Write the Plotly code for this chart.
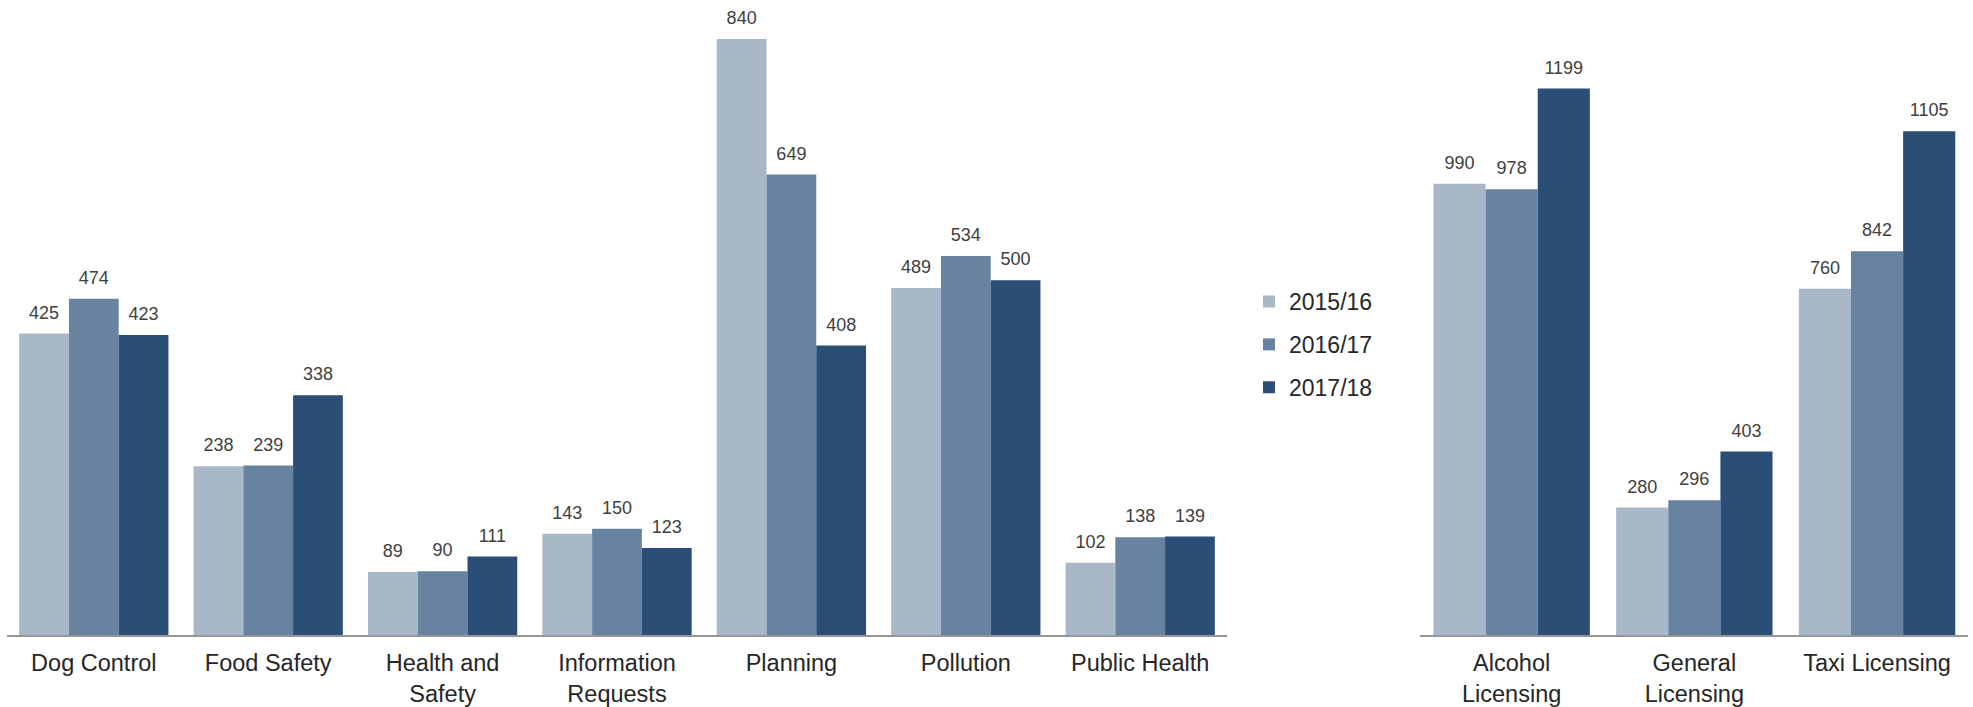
import plotly.graph_objects as go

# ---- data ----
left_categories = ["Dog Control", "Food Safety", "Health and<br>Safety", "Information<br>Requests",
                   "Planning", "Pollution", "Public Health"]
right_categories = ["Alcohol<br>Licensing", "General<br>Licensing", "Taxi Licensing"]
series_names = ["2015/16", "2016/17", "2017/18"]

left_2015_16 = [425, 238, 89, 143, 840, 489, 102]
left_2016_17 = [474, 239, 90, 150, 649, 534, 138]
left_2017_18 = [423, 338, 111, 123, 408, 500, 139]

right_2015_16 = [990, 280, 760]
right_2016_17 = [978, 296, 842]
right_2017_18 = [1199, 403, 1105]

colors = ["#A9B8C9", "#68839F", "#2A4E76"]
FONT = "Liberation Sans, Arial, sans-serif"

W, H = 1973, 707
AXIS_Y = 637

fig = go.Figure()

left_vals = [left_2015_16, left_2016_17, left_2017_18]
right_vals = [right_2015_16, right_2016_17, right_2017_18]

for i, name in enumerate(series_names):
    fig.add_trace(go.Bar(x=left_categories, y=left_vals[i], name=name, marker_color=colors[i],
                         marker_line_width=0, xaxis="x", yaxis="y", legendgroup=name,
                         showlegend=True, hoverinfo="skip"))
    fig.add_trace(go.Bar(x=right_categories, y=right_vals[i], name=name, marker_color=colors[i],
                         marker_line_width=0, xaxis="x2", yaxis="y2", legendgroup=name,
                         showlegend=False, hoverinfo="skip"))

for i, name in enumerate(series_names):
    for cats, vals, xa, ya in [(left_categories, left_vals[i], "x", "y"),
                               (right_categories, right_vals[i], "x2", "y2")]:
        fig.add_trace(go.Scatter(x=cats, y=vals, mode="markers+text", text=[str(v) for v in vals],
                                 textposition="top center",
                                 textfont=dict(family=FONT, size=18, color="#404040"),
                                 marker=dict(size=15, opacity=0), xaxis=xa, yaxis=ya,
                                 showlegend=False, hoverinfo="skip", cliponaxis=False))

ydom = [(H - AXIS_Y) / H, 1.0]
xaxis_common = dict(showline=True, linecolor="#969696", linewidth=2, showgrid=False,
                    zeroline=False, ticks="", fixedrange=True, ticklabelstandoff=6,
                    tickfont=dict(family=FONT, size=23.5, color="#262626"))
yaxis_common = dict(visible=False, showgrid=False, zeroline=False, fixedrange=True)

fig.update_layout(
    width=W, height=H,
    margin=dict(l=0, r=0, t=0, b=0),
    paper_bgcolor="white", plot_bgcolor="white",
    barmode="group", bargap=0.144, bargroupgap=0,
    scattermode="group", scattergap=0.144,
    xaxis=dict(domain=[6.6 / W, 1227.4 / W], anchor="y", **xaxis_common),
    yaxis=dict(domain=ydom, range=[0, 894.8], anchor="x", **yaxis_common),
    xaxis2=dict(domain=[1420.3 / W, 1968.4 / W], anchor="y2", **xaxis_common),
    yaxis2=dict(domain=ydom, range=[0, 1393], anchor="x2", **yaxis_common),
    legend=dict(x=1249 / W, y=1 - 345.5 / H, xanchor="left", yanchor="middle",
                font=dict(family=FONT, size=23, color="#262626"),
                traceorder="grouped", tracegroupgap=10, bgcolor="rgba(0,0,0,0)"),
    showlegend=True,
)

fig.write_html("out.html")
